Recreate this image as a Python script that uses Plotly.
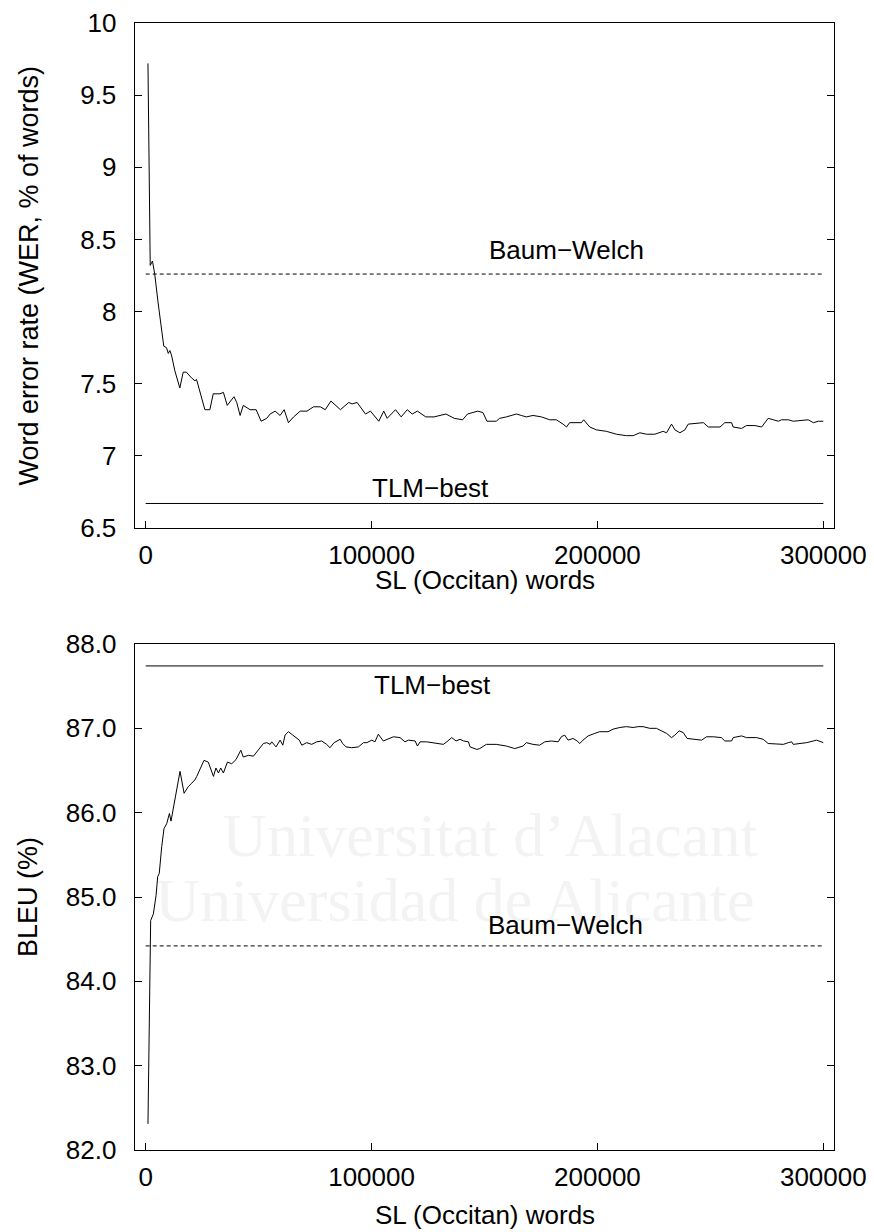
import plotly.graph_objects as go

# ---------------- data ----------------
wer_x = [1000, 2000, 3000, 4000, 5500, 7000, 8000, 9200, 10000, 10700, 11400, 12900, 15100, 16600,
         18000, 20300, 21800, 22500, 24000, 26200, 28400, 29900, 32900, 34400, 36100, 39100, 40300,
         41800, 43200, 46200, 48900, 51100, 53600, 55100, 57300, 59500, 61300, 63200, 65500, 68400,
         71400, 74300, 77300, 79500, 82000, 86200, 89900, 91400, 93600, 97300, 99500, 103200, 105400,
         106900, 110600, 113100, 115800, 118000, 120300, 124000, 127700, 130600, 132900, 136600,
         140300, 142500, 147000, 149300, 151100, 155200, 156700, 159700, 164100, 166300, 168500,
         171500, 175200, 178900, 181800, 184800, 186300, 187700, 189200, 192900, 193900, 196600,
         199600, 204000, 208400, 212800, 215800, 218800, 221700, 225400, 229100, 230600, 232800,
         234300, 236500, 238700, 240200, 245400, 246900, 249100, 254300, 256400, 259400, 260100,
         263800, 266000, 269700, 272700, 275600, 277900, 280100, 281500, 284500, 286700, 291100,
         293300, 295600, 297800, 300000]
wer_y = [9.72, 8.32, 8.35, 8.26, 8.06, 7.89, 7.76, 7.75, 7.71, 7.73, 7.70, 7.59, 7.47, 7.58,
         7.58, 7.54, 7.52, 7.53, 7.45, 7.32, 7.32, 7.43, 7.43, 7.44, 7.35, 7.41, 7.37,
         7.28, 7.35, 7.32, 7.32, 7.24, 7.26, 7.29, 7.31, 7.28, 7.32, 7.23, 7.27, 7.31,
         7.31, 7.34, 7.34, 7.32, 7.38, 7.32, 7.37, 7.36, 7.37, 7.29, 7.31, 7.24, 7.31,
         7.26, 7.32, 7.27, 7.32, 7.29, 7.31, 7.27, 7.27, 7.28, 7.29, 7.26,
         7.25, 7.29, 7.31, 7.30, 7.24, 7.24, 7.26, 7.27, 7.29, 7.28, 7.27,
         7.28, 7.27, 7.25, 7.25, 7.22, 7.20, 7.23, 7.23, 7.23, 7.25, 7.20,
         7.18, 7.17, 7.15, 7.14, 7.14, 7.16, 7.15, 7.15, 7.17, 7.16, 7.22,
         7.18, 7.16, 7.18, 7.22, 7.23, 7.23, 7.20, 7.20, 7.23, 7.23, 7.20,
         7.19, 7.21, 7.21, 7.20, 7.26, 7.25, 7.24, 7.25, 7.25, 7.24, 7.25,
         7.25, 7.23, 7.24, 7.24]

bleu_x = [1000, 2200, 3400, 4600, 5300, 6000, 7100, 8100, 9300, 10500, 11200, 12700, 13700, 15200,
          17000, 18900, 20400, 21800, 22600, 24100, 25800, 27700, 30000, 31100, 32200, 33200, 34400,
          36200, 38100, 40000, 42100, 43200, 45500, 47700, 49900, 52100, 53600, 55100, 55800, 57700,
          59500, 60700, 61700, 63200, 65100, 66900, 68000, 69100, 71300, 73500, 75700, 77900, 80100,
          81600, 83400, 86100, 87200, 88700, 91200, 94200, 96400, 97900, 100100, 101500, 103000,
          105200, 106700, 109700, 112600, 114800, 116300, 119300, 120300, 121500, 124400, 127400,
          130300, 131800, 133300, 135500, 137400, 139200, 140700, 142900, 143600, 146600, 147900,
          150800, 155200, 159700, 163400, 167100, 168500, 171500, 174400, 176700, 179600, 182600,
          184000, 185500, 187000, 189200, 191000, 192200, 193600, 195900, 198800, 201000, 204700,
          206900, 209900, 212800, 215800, 218000, 220200, 223200, 226100, 228400, 230600, 232800,
          234300, 236200, 238000, 239700, 243900, 246100, 248300, 251300, 254900, 256400, 259400,
          260100, 263800, 266000, 270500, 273400, 275600, 280100, 282300, 284500, 286000, 286700,
          289700, 292600, 295600, 297000, 300000]
bleu_y = [82.31, 84.72, 84.80, 85.02, 85.24, 85.28, 85.60, 85.81, 85.87, 85.99, 85.90, 86.13, 86.25, 86.49,
          86.23, 86.31, 86.35, 86.39, 86.43, 86.51, 86.62, 86.60, 86.43, 86.53, 86.47, 86.53, 86.47,
          86.60, 86.58, 86.63, 86.74, 86.66, 86.68, 86.67, 86.75, 86.82, 86.83, 86.81, 86.84, 86.78,
          86.86, 86.80, 86.92, 86.96, 86.92, 86.88, 86.86, 86.80, 86.83, 86.81, 86.84, 86.85, 86.81,
          86.77, 86.83, 86.87, 86.82, 86.78, 86.77, 86.78, 86.83, 86.83, 86.86, 86.84, 86.93,
          86.85, 86.87, 86.90, 86.89, 86.84, 86.86, 86.85, 86.79, 86.84, 86.84, 86.83,
          86.82, 86.81, 86.84, 86.89, 86.85, 86.87, 86.85, 86.84, 86.78, 86.75, 86.76,
          86.81, 86.81, 86.79, 86.76, 86.79, 86.83, 86.81, 86.80, 86.84, 86.85, 86.84,
          86.90, 86.92, 86.86, 86.88, 86.85, 86.82, 86.86, 86.91, 86.94, 86.96, 86.96,
          86.99, 87.01, 87.02, 87.01, 87.02, 87.02, 87.00, 87.00, 86.97, 86.94, 86.89,
          86.92, 86.97, 86.95, 86.88, 86.87, 86.86, 86.90, 86.90, 86.89, 86.85, 86.85,
          86.89, 86.91, 86.89, 86.89, 86.87, 86.82, 86.81, 86.81, 86.83, 86.84, 86.81,
          86.82, 86.83, 86.85, 86.86, 86.83]

ref_x = [0, 300000]
wer_baum_welch = 8.26
wer_tlm_best = 6.67
bleu_baum_welch = 84.42
bleu_tlm_best = 87.74

x_tickvals = [0, 100000, 200000, 300000]
x_ticktext = ["0", "100000", "200000", "300000"]
wer_tickvals = [6.5, 7, 7.5, 8, 8.5, 9, 9.5, 10]
wer_ticktext = ["6.5", "7", "7.5", "8", "8.5", "9", "9.5", "10"]
bleu_tickvals = [82, 83, 84, 85, 86, 87, 88]
bleu_ticktext = ["82.0", "83.0", "84.0", "85.0", "86.0", "87.0", "88.0"]

x_title = "SL (Occitan) words"
wer_title = "Word error rate (WER, % of words)"
bleu_title = "BLEU (%)"
bw_label = "Baum\u2212Welch"
tlm_label = "TLM\u2212best"
watermark_lines = ["Universitat d\u2019Alacant", "Universidad de Alicante"]

# ---------------- figure ----------------
# the page body has an 8px margin, so the figure is 8px smaller on each axis
# and every pixel position below is (target - 8)
OFF = 8
W, H = 874 - OFF, 1232 - OFF
FONT = "Liberation Sans, Arial, Helvetica, sans-serif"
FS = 26
FS_Y = 27


def px_x(p):
    return (p - OFF) / W


def px_y(p):
    return 1 - (p - OFF) / H


fig = go.Figure()

# faint watermark (drawn first, under the curves)
fig.add_trace(go.Scatter(x=[152400, 136900], y=[85.67, 84.90], mode="text", text=watermark_lines,
                         textfont=dict(family="Liberation Serif, Times New Roman, serif", size=62,
                                       color="#f3f3f3"),
                         cliponaxis=False, hoverinfo="skip", xaxis="x2", yaxis="y2"))

line = dict(color="black", width=1)
dash = dict(color="black", width=1, dash="4px,3px")
fig.add_trace(go.Scatter(x=wer_x, y=wer_y, mode="lines", line=line, xaxis="x", yaxis="y"))
fig.add_trace(go.Scatter(x=ref_x, y=[wer_baum_welch] * 2, mode="lines", line=dash, xaxis="x", yaxis="y"))
fig.add_trace(go.Scatter(x=ref_x, y=[wer_tlm_best] * 2, mode="lines", line=line, xaxis="x", yaxis="y"))

fig.add_trace(go.Scatter(x=bleu_x, y=bleu_y, mode="lines", line=line, xaxis="x2", yaxis="y2"))
fig.add_trace(go.Scatter(x=ref_x, y=[bleu_baum_welch] * 2, mode="lines", line=dash, xaxis="x2", yaxis="y2"))
fig.add_trace(go.Scatter(x=ref_x, y=[bleu_tlm_best] * 2, mode="lines", line=line, xaxis="x2", yaxis="y2"))

x0, x1 = px_x(134.7), px_x(834.3)
top_dom = [px_y(528), px_y(23)]
bot_dom = [px_y(1150), px_y(644)]
xr = [-4870, 304870]

common_x = dict(range=xr, tickvals=x_tickvals, ticktext=x_ticktext, ticks="inside", ticklen=7,
                tickwidth=1, tickcolor="black", showline=True, linecolor="black", linewidth=1.3,
                mirror=True, showgrid=False, zeroline=False, ticklabelstandoff=4, automargin=False,
                tickfont=dict(family=FONT, size=FS, color="black"), domain=[x0, x1])
common_y = dict(ticks="inside", ticklen=7, tickwidth=1, tickcolor="black", showline=True,
                linecolor="black", linewidth=1.3, mirror="ticks", showgrid=False, zeroline=False,
                ticklabelstandoff=12, automargin=False,
                tickfont=dict(family=FONT, size=FS, color="black"))

fig.update_layout(
    template="none",
    width=W, height=H,
    margin=dict(l=0, r=0, t=0, b=0, pad=0),
    paper_bgcolor="white", plot_bgcolor="rgba(0,0,0,0)",
    showlegend=False,
    xaxis=dict(**common_x, anchor="y"),
    yaxis=dict(**common_y, range=[6.5, 10], tickvals=wer_tickvals, ticktext=wer_ticktext,
               domain=top_dom, anchor="x"),
    xaxis2=dict(**common_x, anchor="y2"),
    yaxis2=dict(**common_y, range=[82, 88], tickvals=bleu_tickvals, ticktext=bleu_ticktext,
                domain=bot_dom, anchor="x2"),
)

tf = dict(family=FONT, size=FS, color="black")
ty = dict(family=FONT, size=FS_Y, color="black")
ann = []
ann.append(dict(text=x_title, x=(x0 + x1) / 2, y=px_y(580), xref="paper", yref="paper",
                showarrow=False, font=tf, xanchor="center", yanchor="middle"))
ann.append(dict(text=x_title, x=(x0 + x1) / 2, y=px_y(1215), xref="paper", yref="paper",
                showarrow=False, font=tf, xanchor="center", yanchor="middle"))
ann.append(dict(text=wer_title, x=px_x(28), y=px_y(275.5), xref="paper", yref="paper",
                showarrow=False, font=ty, textangle=-90, xanchor="center", yanchor="middle"))
ann.append(dict(text=bleu_title, x=px_x(28), y=px_y(897), xref="paper", yref="paper",
                showarrow=False, font=ty, textangle=-90, xanchor="center", yanchor="middle"))
ann.append(dict(text=bw_label, x=186500, y=8.427, xref="x", yref="y", showarrow=False, font=tf))
ann.append(dict(text=tlm_label, x=125900, y=6.777, xref="x", yref="y", showarrow=False, font=tf))
ann.append(dict(text=tlm_label, x=127000, y=87.51, xref="x2", yref="y2", showarrow=False, font=tf))
ann.append(dict(text=bw_label, x=186000, y=84.67, xref="x2", yref="y2", showarrow=False, font=tf))
fig.update_layout(annotations=ann)

fig.write_html("out.html")
